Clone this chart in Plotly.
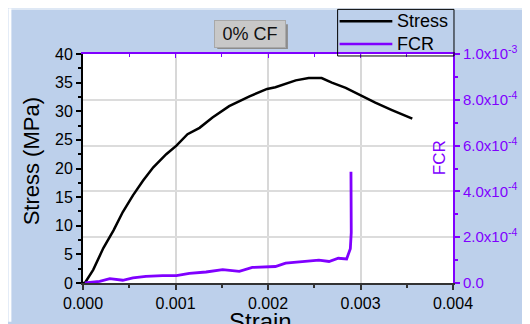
import plotly.graph_objects as go

# ---- data ----
strain_stress = [0.0, 0.00002, 0.00011, 0.00022, 0.00033, 0.00043, 0.00054, 0.00065, 0.00076,
                 0.0009, 0.00101, 0.00113, 0.00126, 0.0014, 0.00158, 0.0018, 0.00199, 0.00208,
                 0.0023, 0.00244, 0.00258, 0.00269, 0.00284, 0.00298, 0.00316, 0.00334, 0.00356]
stress = [0.0, 0.0, 2.3, 6.1, 9.2, 12.4, 15.3, 17.9, 20.2, 22.5, 24.0, 26.0, 27.1, 28.9, 30.9,
          32.6, 33.9, 34.2, 35.4, 35.8, 35.8, 35.0, 34.1, 32.9, 31.5, 30.2, 28.7]

strain_fcr = [0.00002, 0.00018, 0.00029, 0.00036, 0.00043, 0.00054, 0.00068, 0.00086, 0.00101,
              0.00115, 0.00133, 0.00151, 0.00169, 0.00183, 0.00199, 0.00208, 0.00219, 0.00237,
              0.00255, 0.00266, 0.00276, 0.00285, 0.00289, 0.0029, 0.0029, 0.0029, 0.002897]
fcr = [0.0, 7e-6, 1.9e-5, 1.5e-5, 1.2e-5, 2.2e-5, 2.9e-5, 3.2e-5, 3.2e-5, 4.2e-5, 4.8e-5,
       5.8e-5, 5.1e-5, 6.8e-5, 7.2e-5, 7.2e-5, 8.7e-5, 9.4e-5, 1.0e-4, 9.4e-5, 1.08e-4,
       1.05e-4, 1.5e-4, 2.2e-4, 3.4e-4, 3.97e-4, 4.86e-4]

x_ticks = [0.0, 0.001, 0.002, 0.003, 0.004]
x_ticktext = ["0.000", "0.001", "0.002", "0.003", "0.004"]
y_ticks = [0, 5, 10, 15, 20, 25, 30, 35, 40]
y2_ticks = [0.0, 2e-4, 4e-4, 6e-4, 8e-4, 1e-3]
y2_ticktext = ["0.0", "2.0x10<sup>-4</sup>", "4.0x10<sup>-4</sup>", "6.0x10<sup>-4</sup>",
               "8.0x10<sup>-4</sup>", "1.0x10<sup>-3</sup>"]
series_names = ["Stress", "FCR"]

PURPLE = "#8000ff"
BLUE_BG = "#bdd0eb"
FONT = "Liberation Sans, Arial, sans-serif"

# figure sits 8px inside the page (body margin)
OFF = 8
W, H = 522, 316
L, R, T, B = 75, 75, 46, 39
pw, ph = W - L - R, H - T - B


def px(x_page):
    return (x_page - OFF - L) / pw


def py(y_page):
    return (H - B - (y_page - OFF)) / ph


fig = go.Figure()
fig.add_trace(go.Scatter(x=strain_stress, y=stress, mode="lines", name=series_names[0],
                         line=dict(color="black", width=2.5), yaxis="y"))
fig.add_trace(go.Scatter(x=strain_fcr, y=fcr, mode="lines", name=series_names[1],
                         line=dict(color=PURPLE, width=2.8), yaxis="y2"))
fig.add_trace(go.Scatter(x=[None], y=[None], xaxis="x2", yaxis="y", showlegend=False,
                         hoverinfo="skip"))


def ann(text, x, y, size, color="black", angle=0, xa="center", ya="middle", **kw):
    return dict(text=text, xref="paper", yref="paper", x=x, y=y, showarrow=False,
                textangle=angle, xanchor=xa, yanchor=ya,
                font=dict(size=size, color=color, family=FONT), **kw)


shapes = [
    # thin white strips at the top/left edges of the reference image
    dict(type="rect", xref="paper", yref="paper", x0=px(OFF), x1=px(11), y0=py(OFF + H), y1=py(OFF),
         fillcolor="white", line=dict(width=0), layer="below"),
    dict(type="rect", xref="paper", yref="paper", x0=px(OFF), x1=px(OFF + W), y0=py(9), y1=py(OFF),
         fillcolor="white", line=dict(width=0), layer="below"),
    # shadow of the title box
    dict(type="rect", xref="paper", yref="paper", x0=px(218), x1=px(289), y0=py(49), y1=py(24),
         fillcolor="#8c8c8c", line=dict(width=0), layer="below"),
    # legend frame
    dict(type="rect", xref="paper", yref="paper", x0=px(339), x1=px(456), y0=py(56), y1=py(9),
         line=dict(color="black", width=1), fillcolor="rgba(0,0,0,0)", layer="above"),
    # legend samples
    dict(type="line", xref="paper", yref="paper", x0=px(341), x1=px(394), y0=py(21), y1=py(21),
         line=dict(color="black", width=2.5)),
    dict(type="line", xref="paper", yref="paper", x0=px(341), x1=px(394), y0=py(44), y1=py(44),
         line=dict(color=PURPLE, width=2.5)),
]

annotations = [
    ann("0% CF", px(251), py(34), 18, color="#111111",
        bgcolor="#c8c8c8", bordercolor="#a8a8a8", borderwidth=1, borderpad=3, width=64, height=20),
    ann("Stress (MPa)", px(31), py(162), 22, angle=-90),
    ann("Strain", px(261), py(308), 24, ya="top"),
    ann("FCR", px(441), py(159), 17, color=PURPLE, angle=-90),
    ann(series_names[0], px(397), py(21), 18, xa="left"),
    ann(series_names[1], px(397), py(44), 18, xa="left"),
]

fig.update_layout(
    width=W, height=H,
    margin=dict(l=L, r=R, t=T, b=B, pad=0),
    paper_bgcolor=BLUE_BG, plot_bgcolor="white",
    font=dict(family=FONT, color="black"),
    showlegend=False,
    xaxis=dict(range=[0, 0.004], tickvals=x_ticks, ticktext=x_ticktext,
               tickfont=dict(size=16), showline=True, linecolor="#333333", linewidth=2,
               ticks="outside", ticklen=5, tickwidth=1.5, tickcolor="#333333",
               minor=dict(dtick=0.0005, ticks="outside", ticklen=3, tickcolor="#333333",
                          showgrid=False),
               showgrid=True, gridcolor="#d8d8d8", gridwidth=1.5, zeroline=False),
    xaxis2=dict(range=[0, 0.004], overlaying="x", side="top", anchor="y",
                showline=True, linecolor=PURPLE, linewidth=2, showticklabels=False,
                tickvals=x_ticks, ticks="inside", ticklen=4, tickcolor=PURPLE,
                minor=dict(dtick=0.0005, ticks="inside", ticklen=3, tickcolor=PURPLE),
                showgrid=False, zeroline=False),
    yaxis=dict(range=[0, 40], tickvals=y_ticks, tickfont=dict(size=16),
               ticksuffix="\u2002",
               showline=True, linecolor="black", linewidth=2,
               ticks="outside", ticklen=5, tickwidth=1.5, tickcolor="black",
               minor=dict(dtick=2.5, ticks="outside", ticklen=3, tickcolor="black"),
               showgrid=False, zeroline=False),
    yaxis2=dict(range=[0, 1e-3], overlaying="y", side="right", anchor="x",
                tickvals=y2_ticks, ticktext=y2_ticktext,
                tickfont=dict(size=15, color=PURPLE),
                showline=True, linecolor=PURPLE, linewidth=2,
                ticks="outside", ticklen=5, tickwidth=1.5, tickcolor=PURPLE,
                minor=dict(dtick=1e-4, ticks="outside", ticklen=3, tickcolor=PURPLE),
                showgrid=True, gridcolor="#dcdcdc", gridwidth=2, zeroline=False),
    shapes=shapes,
    annotations=annotations,
)

fig.write_html("out.html")
